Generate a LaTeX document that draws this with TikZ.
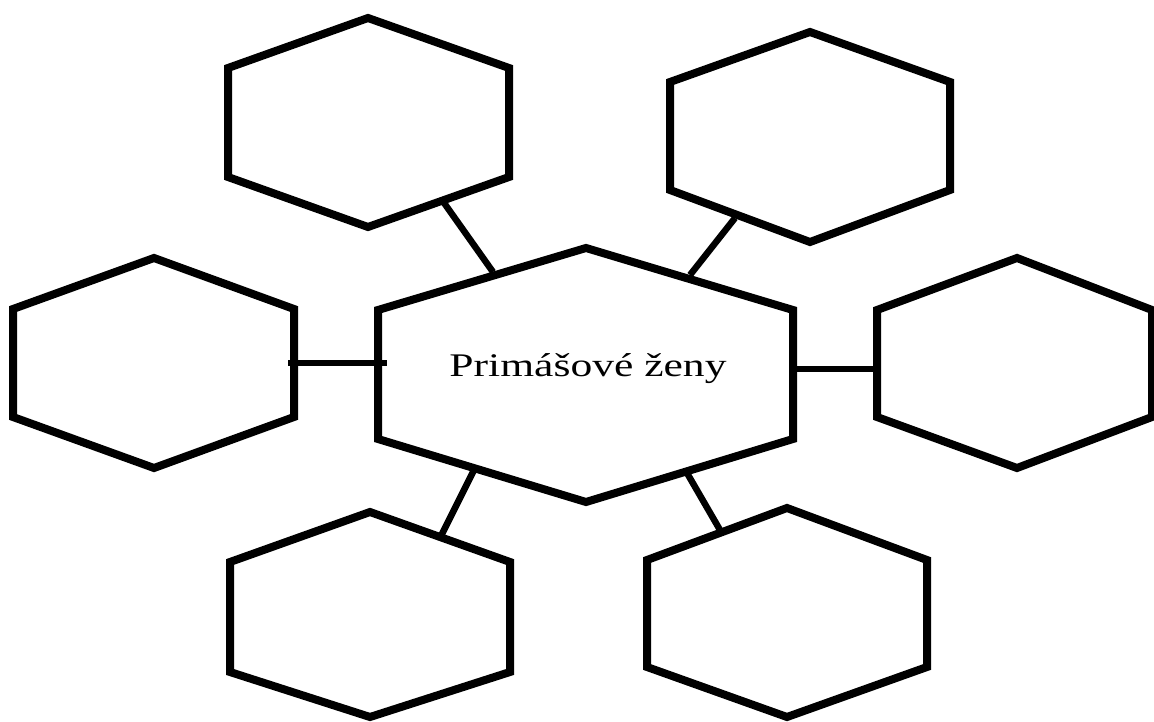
\documentclass[tikz,border=0pt]{standalone}
\usepackage{fontspec}
\setmainfont{Liberation Serif}
\newcommand\hexshape[8]{% #1 name, #2 cx, #3 left, #4 right, #5 top, #6 upper, #7 lower, #8 bottom
  \draw[hexline] (#2,#5) -- (#4,#6) -- (#4,#7) -- (#2,#8) -- (#3,#7) -- (#3,#6) -- cycle;
  \node[inner sep=0pt, minimum size=0pt] (#1) at (#2,{(#5+#8)/2}) {};
}
\begin{document}
\begin{tikzpicture}[x=1pt,y=-1pt,
  hexline/.style={line width=8pt, line join=miter, draw=black},
  link/.style={line width=6.5pt, draw=black},
  label/.style={font=\fontsize{33}{40}\selectfont, text=black, inner sep=0pt}]
\useasboundingbox[fill=white] (0,0) rectangle (1154,722);
% central hexagon
\hexshape{center}{586}{378}{793}{248}{310}{439}{502}
\node[label] (title) at (588,369) {\scalebox{1.32}[1]{Primášové ženy}};
% outer hexagons
\hexshape{tl}{368}{228}{509}{18}{68}{177}{227}
\hexshape{tr}{810}{670}{950}{32}{82}{190}{242}
\hexshape{ml}{154}{13}{294}{258}{309}{417}{468}
\hexshape{mr}{1017}{877}{1152}{258}{310}{417}{468}
\hexshape{bl}{370}{230}{510}{512}{562}{672}{717}
\hexshape{br}{787}{647}{927}{508}{560}{667}{717}
% connector end points on the hexagon edges
\coordinate (tl-c) at (442,200);  \coordinate (c-tl) at (493,272);
\coordinate (tr-c) at (735,218);  \coordinate (c-tr) at (690,275);
\coordinate (ml-c) at (288,363);  \coordinate (c-ml) at (387,363);
\coordinate (mr-c) at (877,369);  \coordinate (c-mr) at (793,369);
\coordinate (bl-c) at (440,538);  \coordinate (c-bl) at (475,468);
\coordinate (br-c) at (720,530);  \coordinate (c-br) at (687,473);
\draw[link] (tl-c) -- (c-tl);
\draw[link] (tr-c) -- (c-tr);
\draw[link] (ml-c) -- (c-ml);
\draw[link] (mr-c) -- (c-mr);
\draw[link] (bl-c) -- (c-bl);
\draw[link] (br-c) -- (c-br);
\end{tikzpicture}
\end{document}
